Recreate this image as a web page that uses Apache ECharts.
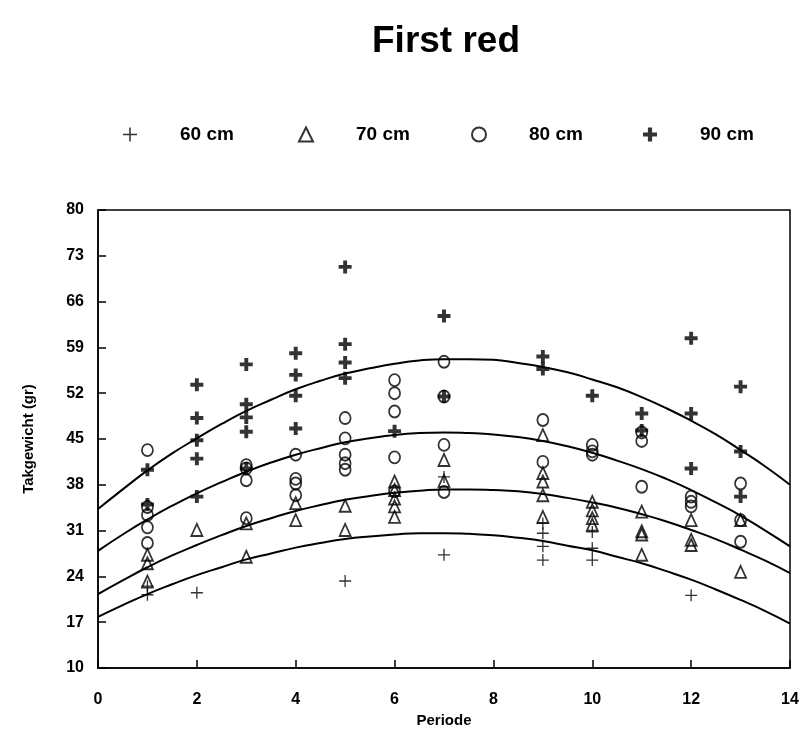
<!DOCTYPE html>
<html>
<head>
<meta charset="utf-8">
<script src="https://cdn.jsdelivr.net/npm/echarts@6/dist/echarts.min.js"></script>
<style>
  html, body { margin: 0; padding: 0; background: #fff; }
  #chart { width: 802px; height: 750px; }
</style>
</head>
<body>
<div id="chart"></div>
<script>
// Takgewicht per periode, by plant distance
const cm60 = [
  [1, 22.5], [1, 21.2], [2, 21.5], [5, 23.3], [7, 27.3], [7, 39.2],
  [9, 32.1], [9, 30.6], [9, 28.6], [9, 26.5],
  [10, 30.8], [10, 28.3], [10, 26.5], [12, 21.1]
];
const cm70 = [
  [1, 27.3], [1, 26.0], [1, 23.2], [2, 31.1], [3, 32.1], [3, 27.0],
  [4, 35.2], [4, 32.6], [5, 34.8], [5, 31.1],
  [6, 38.5], [6, 37.2], [6, 35.9], [6, 34.7], [6, 33.1],
  [7, 41.8], [7, 38.6],
  [9, 45.6], [9, 39.8], [9, 38.5], [9, 36.4], [9, 33.1],
  [10, 35.4], [10, 34.1], [10, 32.9], [10, 31.9],
  [11, 33.9], [11, 30.9], [11, 30.4], [11, 27.3],
  [12, 32.6], [12, 29.6], [12, 28.8], [13, 32.6], [13, 24.7]
];
const cm80 = [
  [1, 43.3], [1, 34.6], [1, 33.4], [1, 31.5], [1, 29.1],
  [3, 41.0], [3, 40.5], [3, 38.7], [3, 32.9],
  [4, 42.6], [4, 38.9], [4, 38.2], [4, 36.4],
  [5, 48.2], [5, 45.1], [5, 42.6], [5, 41.3], [5, 40.3],
  [6, 54.0], [6, 52.0], [6, 49.2], [6, 42.2], [6, 37.0],
  [7, 56.8], [7, 51.5], [7, 44.1], [7, 36.9],
  [9, 47.9], [9, 41.5], [10, 44.1], [10, 43.1], [10, 42.6],
  [11, 46.0], [11, 44.7], [11, 37.7],
  [12, 36.2], [12, 35.4], [12, 34.7], [13, 38.2], [13, 32.6], [13, 29.3]
];
const cm90 = [
  [1, 40.3], [1, 35.0],
  [2, 53.3], [2, 48.2], [2, 44.8], [2, 42.0], [2, 36.2],
  [3, 56.4], [3, 50.3], [3, 48.3], [3, 46.1], [3, 40.5],
  [4, 58.1], [4, 54.8], [4, 51.6], [4, 46.6],
  [5, 71.3], [5, 59.5], [5, 56.7], [5, 54.3], [6, 46.2],
  [7, 63.8], [7, 51.5], [9, 57.6], [9, 55.7], [10, 51.6],
  [11, 48.9], [11, 46.3], [12, 60.4], [12, 48.9], [12, 40.5],
  [13, 53.0], [13, 43.1], [13, 36.2]
];

// fitted trend per plant distance, read every half periode from 0 to 14
const periodeGrid = [0, 0.5, 1, 1.5, 2, 2.5, 3, 3.5, 4, 4.5, 5, 5.5, 6, 6.5, 7,
  7.5, 8, 8.5, 9, 9.5, 10, 10.5, 11, 11.5, 12, 12.5, 13, 13.5, 14];
const trend60 = [17.8, 19.6, 21.3, 22.8, 24.2, 25.4, 26.6, 27.5, 28.4, 29.1, 29.7, 30.1, 30.4, 30.6, 30.6,
  30.5, 30.3, 29.9, 29.4, 28.7, 28.0, 27.0, 26.0, 24.8, 23.5, 22.0, 20.4, 18.7, 16.8];
const trend70 = [21.3, 23.4, 25.4, 27.2, 28.8, 30.3, 31.7, 32.9, 34.0, 34.9, 35.7, 36.3, 36.8, 37.1, 37.3,
  37.3, 37.2, 37.0, 36.6, 36.0, 35.3, 34.5, 33.5, 32.4, 31.1, 29.7, 28.1, 26.4, 24.5];
const trend80 = [27.9, 30.4, 32.7, 34.8, 36.7, 38.4, 40.0, 41.4, 42.6, 43.6, 44.5, 45.1, 45.6, 45.9, 46.0,
  45.9, 45.7, 45.3, 44.7, 43.9, 42.9, 41.7, 40.4, 38.9, 37.2, 35.3, 33.3, 31.0, 28.6];
const trend90 = [34.3, 37.3, 40.2, 42.8, 45.1, 47.3, 49.3, 51.0, 52.6, 53.9, 55.0, 55.8, 56.5, 57.0, 57.2,
  57.2, 57.1, 56.6, 56.0, 55.2, 54.1, 52.9, 51.4, 49.7, 47.8, 45.7, 43.3, 40.8, 38.0];

const seriesNames = ['60 cm', '70 cm', '80 cm', '90 cm'];

const FONT = 'Liberation Sans, Arial, sans-serif';
const thinPlus = 'path://M4.45,0H5.55V10H4.45ZM0,4.45H10V5.55H0Z';
const boldPlus = 'path://M3.5,0H6.5V10H3.5ZM0,3.5H10V6.5H0Z';

const zip = (xs, ys) => xs.map((x, i) => [x, ys[i]]);

const chart = echarts.init(document.getElementById('chart'), null, { renderer: 'canvas' });

// one legend block per series so each entry sits at its own spot
const legendX = [118, 293, 466, 638];
const legends = seriesNames.map((name, i) => ({
  data: [name],
  left: legendX[i],
  top: 120,
  itemWidth: 14,
  itemHeight: 14,
  selectedMode: false,
  textStyle: { fontFamily: FONT, fontSize: 19, fontWeight: 'bold', color: '#000', padding: [0, 0, 0, 38] }
}));

const curve = (data) => ({
  type: 'line',
  data: zip(periodeGrid, data),
  smooth: true,
  showSymbol: false,
  silent: true,
  lineStyle: { color: '#000', width: 2 },
  z: 2
});

chart.setOption({
  animation: false,
  backgroundColor: '#fff',
  title: {
    text: 'First red',
    left: 367,
    top: 18,
    textStyle: { fontFamily: FONT, fontSize: 37, fontWeight: 'bold', color: '#000' }
  },
  legend: legends,
  grid: {
    left: 98, right: 12, top: 210, bottom: 82,
    show: true, borderColor: '#000', borderWidth: 1.5, backgroundColor: 'transparent'
  },
  xAxis: {
    type: 'value',
    min: 0, max: 14, interval: 2,
    name: 'Periode',
    nameLocation: 'middle',
    nameGap: 45,
    nameTextStyle: { fontFamily: FONT, fontSize: 15, fontWeight: 'bold', color: '#000' },
    axisLine: { lineStyle: { color: '#000', width: 1.5 } },
    axisTick: { inside: true, length: 8, lineStyle: { color: '#000', width: 1.5 } },
    axisLabel: { fontFamily: FONT, fontSize: 16, fontWeight: 'bold', color: '#000', margin: 24 },
    splitLine: { show: false }
  },
  yAxis: {
    type: 'value',
    min: 10, max: 80, interval: 7,
    name: 'Takgewicht (gr)',
    nameLocation: 'middle',
    nameGap: 62,
    nameTextStyle: { fontFamily: FONT, fontSize: 15, fontWeight: 'bold', color: '#000' },
    axisLine: { lineStyle: { color: '#000', width: 1.5 } },
    axisTick: { inside: true, length: 8, lineStyle: { color: '#000', width: 1.5 } },
    axisLabel: { fontFamily: FONT, fontSize: 16, fontWeight: 'bold', color: '#000', margin: 14 },
    splitLine: { show: false }
  },
  series: [
    {
      type: 'scatter', z: 3,
      name: seriesNames[0], data: cm60, symbol: thinPlus, symbolSize: 12,
      itemStyle: { color: '#000' }
    },
    {
      type: 'scatter', z: 3,
      name: seriesNames[1], data: cm70, symbol: 'triangle', symbolSize: [11, 12],
      itemStyle: { color: 'rgba(0,0,0,0)', borderColor: '#000', borderWidth: 1.8 }
    },
    {
      type: 'scatter', z: 3,
      name: seriesNames[2], data: cm80, symbol: 'circle', symbolSize: [11, 12],
      itemStyle: { color: 'rgba(0,0,0,0)', borderColor: '#000', borderWidth: 1.8 }
    },
    {
      type: 'scatter', z: 3,
      name: seriesNames[3], data: cm90, symbol: boldPlus, symbolSize: 13,
      itemStyle: { color: '#000' }
    },
    curve(trend60),
    curve(trend70),
    curve(trend80),
    curve(trend90)
  ]
});
</script>
</body>
</html>
